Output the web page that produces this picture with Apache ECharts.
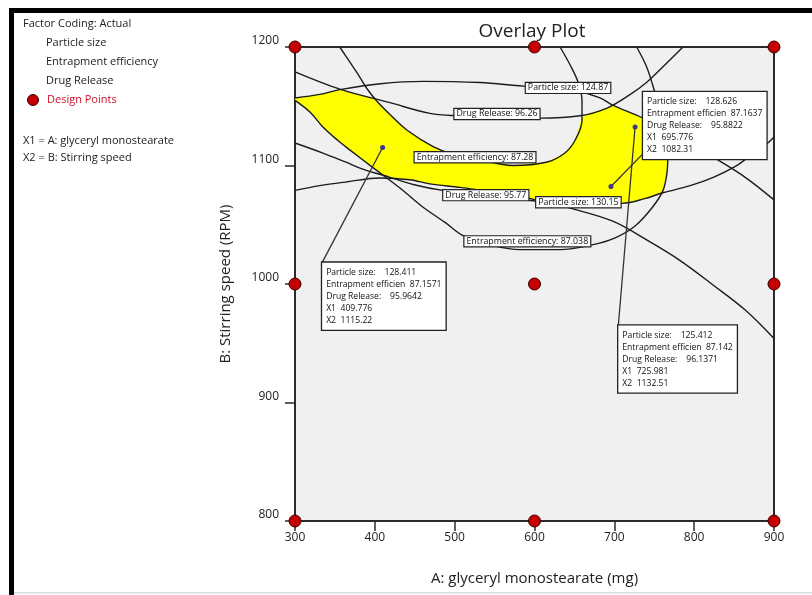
<!DOCTYPE html>
<html>
<head>
<meta charset="utf-8">
<script src="https://cdn.jsdelivr.net/npm/echarts@6/dist/echarts.min.js"></script>
<style>
  html, body { margin: 0; padding: 0; background: #fff; }
  #overlay { width: 812px; height: 595px; }
</style>
</head>
<body>
<div id="overlay"></div>
<script>
// factor A (mg) on x, factor B (rpm) on y
const xTicks = [300, 400, 500, 600, 700, 800, 900];
const yTicks = [800, 900, 1000, 1100, 1200];

const designPoints = [
    [300, 800], [300, 1000], [300, 1200],
    [600, 800], [600, 1000], [600, 1200],
    [900, 800], [900, 1000], [900, 1200]
];

// contour lines, [mg, rpm]
const particleSize124 = [[300,1157],[331,1160],[356,1164],[407,1169],[460,1171],[532,1170],[586,1167],[642,1165],[682,1157],[698,1151],[736,1140],[782,1124],[824,1107],[864,1090],[900,1071]];
const particleSize130 = [[300,1119],[335,1110.5],[363,1103],[385,1097],[419,1090],[448,1084],[485,1079],[544,1074],[601,1070],[655,1067.5],[710,1068],[738,1072],[761,1077],[795,1083],[824,1090],[851,1099],[872,1109],[889,1117],[900,1124]];
const entrapment8728 = [[356,1200],[369,1187],[378,1178],[390,1165],[403,1154],[419,1143],[440,1130],[473,1116],[500,1109],[526,1106],[573,1100],[616,1103],[638,1110.5],[651,1121.5],[659.5,1138],[659.5,1155],[654.5,1170.5],[644.5,1185],[632,1200]];
const entrapment87038 = [[300,1155],[319,1145],[335,1132.5],[353,1121.5],[369,1113],[398,1098],[431.5,1081],[460,1065],[488,1052],[510,1041],[544,1033],[582,1029],[632,1029],[672,1033],[701,1039],[726,1049],[748,1065],[761,1079],[766,1094],[767,1109],[763.5,1130],[757,1147],[748,1168],[740,1184],[728,1200]];
const drugRelease9626 = [[300,1179],[356,1164.5],[419,1153],[469,1144],[503,1142],[553,1141],[607,1140],[657,1142],[691,1148.5],[720,1160],[741,1170.5],[763.5,1185],[786,1200]];
const drugRelease9577 = [[300,1079],[331,1083],[363,1086],[406.5,1089.5],[444,1088],[469,1084.5],[507,1081.5],[538,1078.5],[560,1076.5],[592,1072.5],[619,1068],[644.5,1064],[698,1053],[741,1037],[782,1020],[824,999],[864,978],[900,954]];

// design space (yellow), corners taken from where the bounding contours meet
const sweetSpot = [[300,1157],[331,1160],[356,1164],[381,1160],[399,1157],[403,1154],[419,1143],[440,1130],[473,1116],[500,1109],[526,1106],[573,1100],[616,1103],[638,1110.5],[651,1121.5],[659.5,1141],[669.5,1144.4],[691,1148.5],[699,1150.5],[736,1140],[763,1131],[767,1109],[766,1094],[761,1079],[757,1075.5],[738,1072],[710,1068],[655,1067.5],[620,1069],[601,1071],[592,1072.5],[560,1076.5],[538,1078.5],[507,1081.5],[482,1083.5],[469,1084.5],[444,1088],[425,1089.5],[410,1092.5],[398,1098],[369,1113],[353,1121.5],[335,1132.5],[319,1145],[300,1155]];

const contourNames = ['Particle size: 124.87', 'Particle size: 130.15', 'Entrapment efficiency: 87.28',
    'Entrapment efficiency: 87.038', 'Drug Release: 96.26', 'Drug Release: 95.77'];
const contourLines = [particleSize124, particleSize130, entrapment8728, entrapment87038, drugRelease9626, drugRelease9577];
const contourLabelAt = [[642,1165.5],[655,1069],[525.5,1107],[591,1036],[553,1143.5],[539,1075]];

// flagged points
const flagX1 = [409.776, 695.776, 725.981];
const flagX2 = [1115.22, 1082.31, 1132.51];
const flagPS = ['128.411', '128.626', '125.412'];
const flagEE = ['87.1571', '87.1637', '87.142'];
const flagDR = ['95.9642', '95.8822', '96.1371'];
const flagBoxAt = [[334,1018],[736,1162],[705,965]];
const flagLeaderEnd = [[334,1018],[736,1110],[705,965]];

const font = 'Open Sans';
const chart = echarts.init(document.getElementById('overlay'));

const series = [];

series.push({
    type: 'custom',
    z: 1,
    clip: true,
    silent: true,
    data: sweetSpot,
    renderItem: function (params, api) {
        if (params.dataIndex !== 0) return;
        return {
            type: 'polygon',
            shape: { points: sweetSpot.map(p => api.coord(p)) },
            style: { fill: '#ffff00' }
        };
    }
});

contourLines.forEach((pts, i) => {
    series.push({
        name: contourNames[i],
        type: 'line',
        data: pts,
        smooth: 0.35,
        symbol: 'none',
        z: 3,
        silent: true,
        lineStyle: { color: '#1c1c1c', width: 1.4 }
    });
});

series.push({
    type: 'scatter',
    z: 6,
    symbolSize: 0,
    silent: true,
    itemStyle: { color: '#fff', opacity: 1 },
    data: contourLabelAt.map((p, i) => ({ value: p, name: contourNames[i] })),
    label: {
        show: true,
        position: 'inside',
        formatter: '{b}',
        fontFamily: font,
        fontSize: 8.8,
        color: '#111',
        opacity: 1,
        backgroundColor: '#fff',
        borderColor: '#222',
        borderWidth: 1.2,
        padding: [1, 2, 0, 2]
    }
});

series.push({
    type: 'lines',
    coordinateSystem: 'cartesian2d',
    z: 4,
    silent: true,
    lineStyle: { color: '#333', width: 1.3, opacity: 1 },
    data: flagX1.map((x, i) => ({ coords: [[x, flagX2[i]], flagLeaderEnd[i]] }))
});

series.push({
    type: 'scatter',
    z: 5,
    silent: true,
    symbolSize: 5,
    itemStyle: { color: '#3a3a8a', opacity: 1 },
    data: flagX1.map((x, i) => [x, flagX2[i]])
});

series.push({
    type: 'scatter',
    z: 7,
    symbolSize: 0,
    silent: true,
    itemStyle: { color: '#fff', opacity: 1 },
    data: flagBoxAt.map((p, i) => ({
        value: p,
        text: 'Particle size:    ' + flagPS[i] + '\nEntrapment efficien  ' + flagEE[i] +
            '\nDrug Release:    ' + flagDR[i] + '\nX1  ' + flagX1[i] + '\nX2  ' + flagX2[i]
    })),
    label: {
        show: true,
        position: [0, 0],
        align: 'left',
        verticalAlign: 'top',
        formatter: p => p.data.text,
        fontFamily: font,
        fontSize: 8.6,
        lineHeight: 12,
        color: '#111',
        opacity: 1,
        backgroundColor: '#fff',
        borderColor: '#222',
        borderWidth: 1.3,
        padding: [4, 4, 3, 4]
    }
});

series.push({
    name: 'Design Points',
    type: 'scatter',
    z: 10,
    clip: false,
    silent: true,
    symbolSize: 12,
    itemStyle: { color: '#c40000', borderColor: '#3a0000', borderWidth: 1, opacity: 1 },
    data: designPoints
});

const option = {
    backgroundColor: '#fff',
    animation: false,
    grid: {
        left: 295, right: 38, top: 47, bottom: 74,
        show: true, backgroundColor: '#f0f0f0', borderColor: '#2b2b2b', borderWidth: 2
    },
    xAxis: {
        type: 'value', min: 300, max: 900, interval: 100,
        name: 'A: glyceryl monostearate (mg)',
        nameLocation: 'middle', nameGap: 50,
        nameTextStyle: { fontFamily: font, fontSize: 15, color: '#222' },
        axisLine: { lineStyle: { color: '#2b2b2b', width: 2 } },
        axisTick: { inside: false, length: 10, lineStyle: { color: '#2b2b2b', width: 1.5 } },
        axisLabel: { fontFamily: font, fontSize: 12, color: '#222', margin: 11, formatter: v => String(v) },
        splitLine: { show: false }
    },
    yAxis: {
        type: 'value', min: 800, max: 1200, interval: 100,
        name: 'B: Stirring speed (RPM)',
        nameLocation: 'middle', nameGap: 62, nameRotate: 90,
        nameTextStyle: { fontFamily: font, fontSize: 15, color: '#222' },
        axisLine: { lineStyle: { color: '#2b2b2b', width: 2 } },
        axisTick: { inside: false, length: 10, lineStyle: { color: '#2b2b2b', width: 1.5 } },
        axisLabel: { fontFamily: font, fontSize: 12, color: '#222', margin: 16, verticalAlign: 'bottom', formatter: v => String(v) },
        splitLine: { show: false }
    },
    graphic: [
        { type: 'rect', shape: { x: 9, y: 8, width: 803, height: 5 }, style: { fill: '#000' } },
        { type: 'rect', shape: { x: 9, y: 8, width: 5, height: 587 }, style: { fill: '#000' } },
        { type: 'rect', shape: { x: 14, y: 592, width: 798, height: 1.5 }, style: { fill: '#dcdcdc' } },
        { type: 'text', x: 532, y: 32, style: { text: 'Overlay Plot', fontFamily: font, fontSize: 19, fill: '#222', align: 'center', verticalAlign: 'middle' } },
        { type: 'text', x: 23, y: 24, style: { text: 'Factor Coding: Actual', fontFamily: font, fontSize: 11, fill: '#222', verticalAlign: 'middle' } },
        { type: 'text', x: 46, y: 43, style: { text: 'Particle size', fontFamily: font, fontSize: 11, fill: '#222', verticalAlign: 'middle' } },
        { type: 'text', x: 46, y: 62, style: { text: 'Entrapment efficiency', fontFamily: font, fontSize: 11, fill: '#222', verticalAlign: 'middle' } },
        { type: 'text', x: 46, y: 81, style: { text: 'Drug Release', fontFamily: font, fontSize: 11, fill: '#222', verticalAlign: 'middle' } },
        { type: 'circle', shape: { cx: 33, cy: 100, r: 5.5 }, style: { fill: '#c40000', stroke: '#3a0000', lineWidth: 1 } },
        { type: 'text', x: 47, y: 100, style: { text: 'Design Points', fontFamily: font, fontSize: 11, fill: '#d0102a', verticalAlign: 'middle' } },
        { type: 'text', x: 23, y: 141, style: { text: 'X1 = A: glyceryl monostearate', fontFamily: font, fontSize: 11, fill: '#222', verticalAlign: 'middle' } },
        { type: 'text', x: 23, y: 158, style: { text: 'X2 = B: Stirring speed', fontFamily: font, fontSize: 11, fill: '#222', verticalAlign: 'middle' } }
    ],
    series: series
};

chart.setOption(option);
</script>
</body>
</html>
